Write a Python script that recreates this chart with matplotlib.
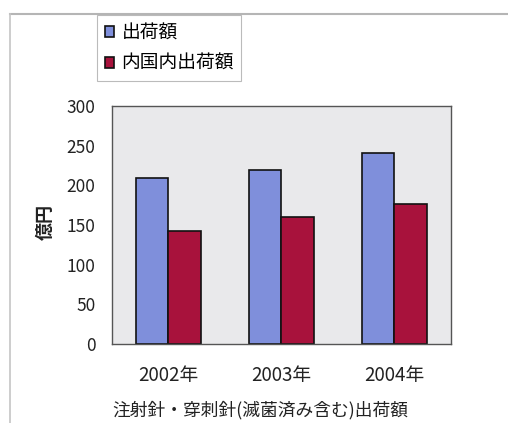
import numpy as np
import matplotlib
matplotlib.use("Agg")
import matplotlib.pyplot as plt
from matplotlib.lines import Line2D

plt.rcParams['font.family'] = ['Noto Sans CJK JP', 'DejaVu Sans']

years = ['2002年', '2003年', '2004年']
shipments = [209, 219, 241]          # 出荷額
domestic = [143, 160, 176]           # 内国内出荷額
series_names = ['出荷額', '内国内出荷額']

fig = plt.figure(figsize=(5.08, 4.23), dpi=100)
ax = fig.add_axes([0.2205, 0.1868, 0.667, 0.5626])
ax.set_facecolor('#e9e9eb')

x = np.arange(len(years))
w = 0.29
b1 = ax.bar(x - w/2, shipments, w, color='#7f8fdb', edgecolor='#111111', linewidth=1.2, label=series_names[0])
b2 = ax.bar(x + w/2, domestic, w, color='#a8123c', edgecolor='#111111', linewidth=1.2, label=series_names[1])

ax.set_xlim(-0.5, 2.5)
ax.set_ylim(0, 300)
ax.set_yticks([0, 50, 100, 150, 200, 250, 300])
ax.set_xticks(x)
ax.set_xticklabels(years)
ax.tick_params(axis='y', length=0, pad=12, labelsize=12.5, colors='#222222')
ax.tick_params(axis='x', length=0, pad=15, labelsize=13.5, colors='#222222')
for s in ax.spines.values():
    s.set_color('#555555')
    s.set_linewidth(1.0)

fig.text(45/508, 1 - 222/423, '億円', rotation=90, ha='center', va='center',
         fontsize=13, fontweight='bold', color='#222222')
fig.text(260/508, 1 - 410/423, '注射針・穿刺針(滅菌済み含む)出荷額', ha='center', va='center',
         fontsize=12.8, color='#222222')

leg = fig.legend(handles=[b1, b2], loc='upper left', bbox_to_anchor=(97/508, 1 - 15/423),
                 fontsize=13.5, frameon=True, fancybox=False, handlelength=0.5, handleheight=0.5,
                 handletextpad=0.4, borderpad=0.4, labelspacing=0.5, borderaxespad=0)
leg.get_frame().set_edgecolor('#aaaaaa')
leg.get_frame().set_linewidth(0.8)

# chart-area frame lines (top and left)
fig.add_artist(Line2D([10/508, 1], [1 - 14/423, 1 - 14/423], color='#b5b5b5', lw=1.5))
fig.add_artist(Line2D([10/508, 10/508], [0, 1 - 14/423], color='#c5c5c5', lw=1.2))

fig.savefig('out.png', dpi=100)
